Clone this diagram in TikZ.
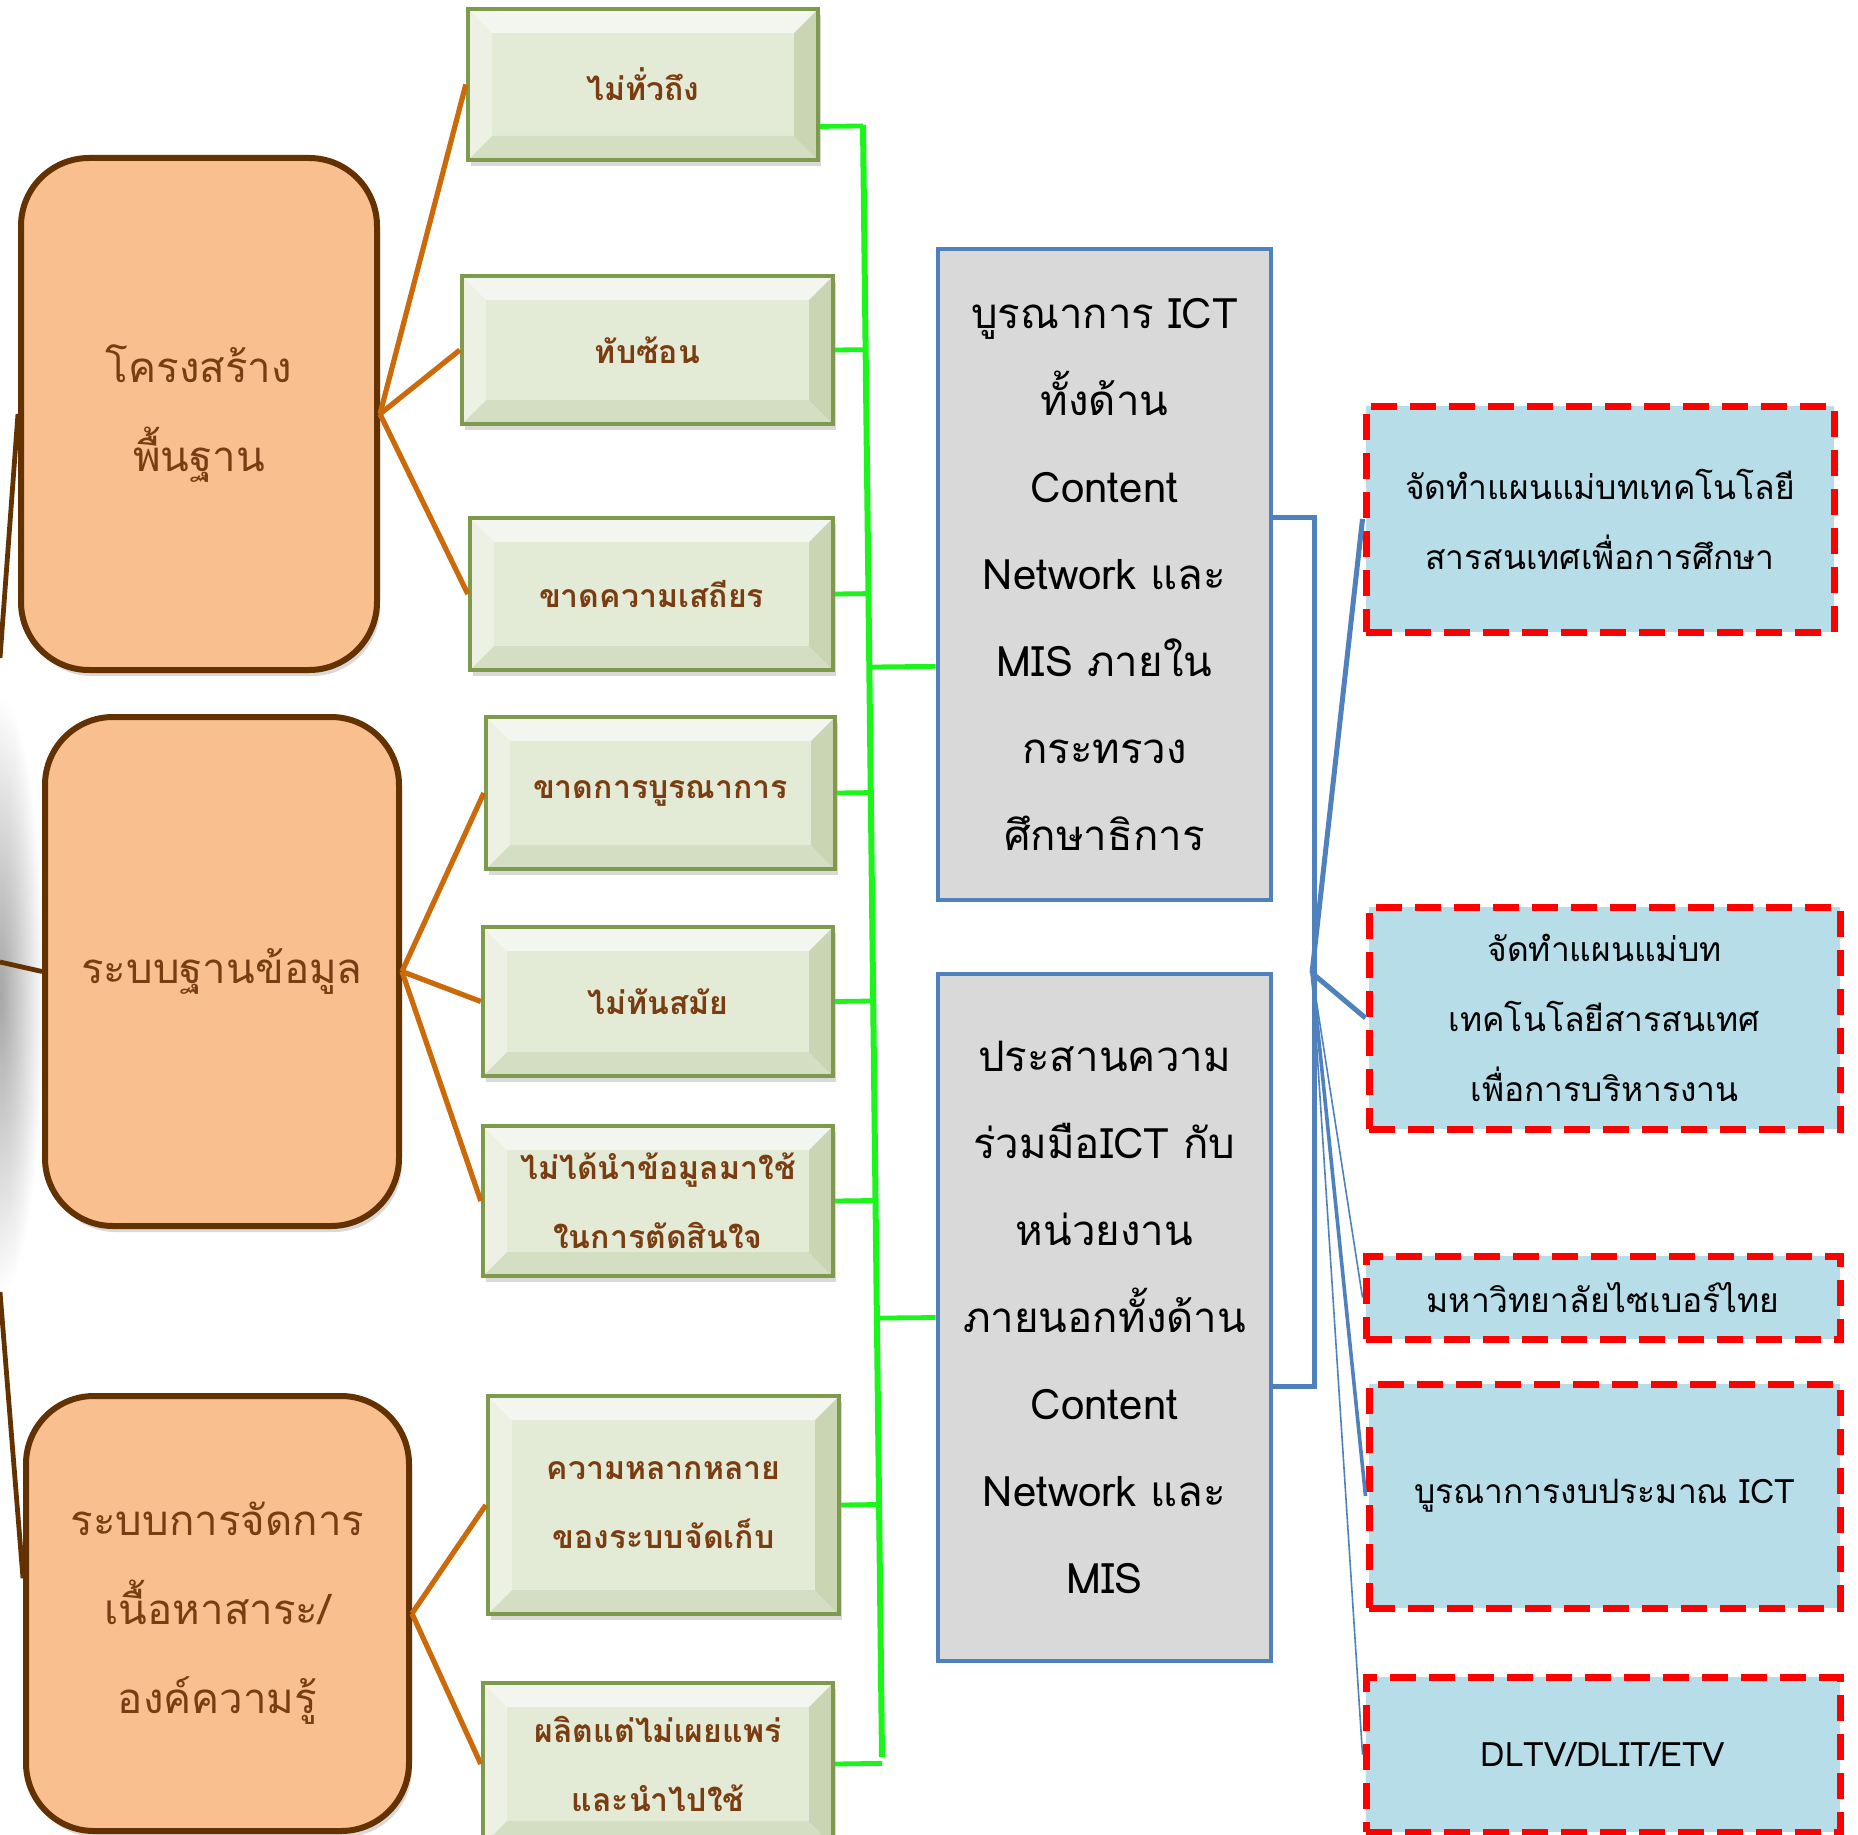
\documentclass[tikz,border=0pt]{standalone}
\usepackage{fontspec}
\setmainfont{Loma}[Script=Thai]
\usetikzlibrary{calc,shadows}
\definecolor{peach}{HTML}{F9BF8F}
\definecolor{brownedge}{HTML}{643200}
\definecolor{browntext}{HTML}{7A3D12}
\definecolor{orangeline}{HTML}{CC6A0A}
\definecolor{palegreen}{HTML}{E3EAD6}
\definecolor{olive}{HTML}{7E9A4C}
\definecolor{limeline}{HTML}{1AF51A}
\definecolor{greyfill}{HTML}{D9D9D9}
\definecolor{blueedge}{HTML}{4F81BD}
\definecolor{lightblue}{HTML}{B7DDE8}
\tikzset{
	bevel/.style={path picture={
		\path (path picture bounding box.south west) coordinate (bv1)
			(path picture bounding box.north east) coordinate (bv2);
		\fill[white,opacity=.6] (bv1 |- bv2) -- (bv2) -- ([shift={(-12pt,-12pt)}]bv2) -- ([shift={(12pt,-12pt)}]bv1 |- bv2) -- cycle;
		\fill[white,opacity=.35] (bv1) -- (bv1 |- bv2) -- ([shift={(12pt,-12pt)}]bv1 |- bv2) -- ([shift={(12pt,12pt)}]bv1) -- cycle;
		\fill[olive,opacity=.14] (bv1) -- (bv1 -| bv2) -- ([shift={(-12pt,12pt)}]bv1 -| bv2) -- ([shift={(12pt,12pt)}]bv1) -- cycle;
		\fill[olive,opacity=.25] (bv1 -| bv2) -- (bv2) -- ([shift={(-12pt,-12pt)}]bv2) -- ([shift={(-12pt,12pt)}]bv1 -| bv2) -- cycle;
	}},
	obox/.style={rectangle,rounded corners=34pt,draw=brownedge,line width=3pt,fill=peach,text=browntext,
		align=center,inner sep=0pt,font=\fontsize{21pt}{44.5pt}\selectfont,
		drop shadow={shadow xshift=1.5pt,shadow yshift=-3pt,opacity=.3}},
	gbox/.style={rectangle,draw=olive,line width=2.2pt,fill=palegreen,bevel,text=browntext,
		align=center,inner sep=0pt,font=\fontsize{16pt}{34.5pt}\selectfont\bfseries,
		drop shadow={shadow xshift=1.5pt,shadow yshift=-3pt,opacity=.3}},
	ibox/.style={rectangle,draw=blueedge,line width=2.4pt,fill=greyfill,text=black,
		align=center,inner sep=0pt,font=\fontsize{21pt}{43.5pt}\selectfont},
	rbox/.style={rectangle,draw=red,line width=3.5pt,dash pattern=on 13pt off 6.5pt,fill=lightblue,text=black,
		align=center,inner sep=0pt,font=\fontsize{16.8pt}{35pt}\selectfont},
	oline/.style={orangeline,line width=2.6pt},
	lline/.style={brownedge,line width=2.4pt},
	gstub/.style={limeline,line width=2.4pt},
	bline/.style={blueedge,line width=2.5pt}
}
\begin{document}
\begin{tikzpicture}[x=0.5pt,y=-0.5pt]
	\useasboundingbox (0,0) rectangle (1858,1835);
	\clip (0,0) rectangle (1858,1835);
	\shade[inner color=black!35,outer color=white] (0,995) ellipse [x radius=22pt,y radius=150pt];

	\node[obox,minimum width=178pt,minimum height=256pt] (o1) at (199,414) {โครงสร้าง\\พื้นฐาน};
	\node[obox,minimum width=177pt,minimum height=254.5pt] (o2) at (222,971.5) {ระบบฐานข้อมูล};
	\node[obox,minimum width=191.5pt,minimum height=217.5pt] (o3) at (217.5,1613.5) {ระบบการจัดการ\\เนื้อหาสาระ/\\องค์ความรู้};

	\node[gbox,minimum width=175pt,minimum height=75.5pt] (g1) at (643,84.5) {ไม่ทั่วถึง};
	\node[gbox,minimum width=185.5pt,minimum height=74pt] (g2) at (647.5,350) {ทับซ้อน};
	\node[gbox,minimum width=181.5pt,minimum height=76pt] (g3) at (651.5,594) {ขาดความเสถียร};
	\node[gbox,minimum width=174.5pt,minimum height=76pt] (g4) at (660.5,793) {ขาดการบูรณาการ};
	\node[gbox,minimum width=175pt,minimum height=74.5pt] (g5) at (658,1001.5) {ไม่ทันสมัย};
	\node[gbox,minimum width=175pt,minimum height=75pt] (g6) at (658,1201) {ไม่ได้นำข้อมูลมาใช้\\ในการตัดสินใจ};
	\node[gbox,minimum width=175.5pt,minimum height=109pt] (g7) at (663.5,1505) {ความหลากหลาย\\ของระบบจัดเก็บ};
	\node[gbox,minimum width=175pt,minimum height=81pt] (g8) at (658,1764) {ผลิตแต่ไม่เผยแพร่\\และนำไปใช้};

	\node[ibox,minimum width=166.5pt,minimum height=325.5pt] (b1) at (1104.5,574.5) {บูรณาการ ICT\\ทั้งด้าน\\Content\\Network และ\\MIS ภายใน\\กระทรวง\\ศึกษาธิการ};
	\node[ibox,minimum width=166.5pt,minimum height=343.5pt] (b2) at (1104.5,1317.5) {ประสานความ\\ร่วมมือICT กับ\\หน่วยงาน\\ภายนอกทั้งด้าน\\Content\\Network และ\\MIS};

	\node[rbox,minimum width=234pt,minimum height=113pt] (r1) at (1600,519) {จัดทำแผนแม่บทเทคโนโลยี\\สารสนเทศเพื่อการศึกษา};
	\node[rbox,minimum width=235.5pt,minimum height=111pt] (r2) at (1604.5,1018) {จัดทำแผนแม่บท\\เทคโนโลยีสารสนเทศ\\เพื่อการบริหารงาน};
	\node[rbox,minimum width=237pt,minimum height=41.5pt] (r3) at (1603,1297.5) {มหาวิทยาลัยไซเบอร์ไทย};
	\node[rbox,minimum width=235.5pt,minimum height=112pt] (r4) at (1604.5,1496) {บูรณาการงบประมาณ ICT};
	\node[rbox,minimum width=237pt,minimum height=77.5pt] (r5) at (1603,1754.5) {DLTV/DLIT/ETV};

	\coordinate (lp1) at (0,658);
	\coordinate (lp2) at (0,962);
	\coordinate (lp3) at (0,1292);
	\draw[lline] (lp1) -- (o1.west);
	\draw[lline] (lp2) -- (o2.west);
	\draw[lline] (lp3) -- ($(o3.north west)!0.42!(o3.south west)$);

	\foreach \g in {g1,g2,g3}
		\draw[oline] (o1.east) -- (\g.west);
	\foreach \g in {g4,g5,g6}
		\draw[oline] (o2.east) -- (\g.west);
	\foreach \g in {g7,g8}
		\draw[oline] (o3.east) -- (\g.west);

	\coordinate (bustop) at (863,125);
	\coordinate (busbot) at (882,1757);
	\coordinate (g1out) at ($(g1.north east)!0.77!(g1.south east)$);
	\coordinate (b1in) at ($(b1.north west)!0.64!(b1.south west)$);
	\draw[gstub] (g1out) -- ($(bustop)!(g1out)!(busbot)$);
	\foreach \g in {g2,g3,g4,g5,g6,g7,g8}
		\draw[gstub] (\g.east) -- ($(bustop)!(\g.east)!(busbot)$);
	\draw[gstub] (b1in) -- ($(bustop)!(b1in)!(busbot)$);
	\draw[gstub] (b2.west) -- ($(bustop)!(b2.west)!(busbot)$);
	\draw[limeline,line width=3pt] (bustop) -- (busbot);

	\coordinate (b1out) at ($(b1.north east)!0.413!(b1.south east)$);
	\coordinate (b2out) at ($(b2.north east)!0.6!(b2.south east)$);
	\coordinate (hub) at (1312,973);
	\draw[bline] (b1out) -- ++(41,0) |- (b2out);
	\draw[bline] (hub) -- (r1.west);
	\draw[bline] (hub) -- (r2.west);
	\draw[bline,line width=.8pt] (hub) -- (r3.west);
	\draw[bline,line width=1.8pt] (hub) -- (r4.west);
	\draw[bline,line width=.8pt] (hub) -- (r5.west);
\end{tikzpicture}
\end{document}
